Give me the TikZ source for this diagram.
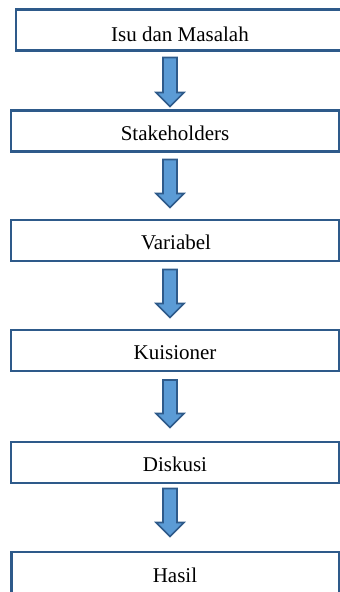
\documentclass[tikz,border=0pt]{standalone}
\usepackage{fontspec}
\setmainfont{Liberation Serif}
\definecolor{boxline}{HTML}{2E5A8A}
\definecolor{arrfill}{HTML}{5B9BD5}
\definecolor{arrline}{HTML}{2E5A8A}
\newcommand\blockarr[3]{%
  \draw[arrstyle] ({#1-7},#2) -- ({#1+7},#2) -- ({#1+7},{#3-14}) -- ({#1+14},{#3-14})
    -- (#1,#3) -- ({#1-14},{#3-14}) -- ({#1-7},{#3-14}) -- cycle;}
\begin{document}
\begin{tikzpicture}[x=1pt,y=-1pt,
  stepbox/.style={draw=boxline, line width=2.4pt, rectangle, minimum height=41pt, inner sep=0pt},
  lbl/.style={anchor=base, inner sep=0pt, font=\fontsize{21}{25}\selectfont},
  arrstyle/.style={draw=arrline, fill=arrfill, line width=1.6pt, line join=miter}]
\useasboundingbox (0,0) rectangle (340,592);
\clip (0,0) rectangle (340,592);
\node[stepbox, minimum width=328pt] (b1) at (180,30) {};
\node[lbl] (t1) at (180,41) {Isu dan Masalah};
\node[stepbox, minimum width=328pt] (b2) at (175,131) {};
\node[lbl] (t2) at (175,140) {Stakeholders};
\node[stepbox, minimum width=328pt] (b3) at (175,240.5) {};
\node[lbl] (t3) at (176,249) {Variabel};
\node[stepbox, minimum width=328pt] (b4) at (175,350.5) {};
\node[lbl] (t4) at (175,359) {Kuisioner};
\node[stepbox, minimum width=328pt] (b5) at (175,462.5) {};
\node[lbl] (t5) at (175,471) {Diskusi};
\node[stepbox, minimum width=328pt] (b6) at (175.5,572.5) {};
\node[lbl] (t6) at (175,582) {Hasil};
\blockarr{170}{57.5}{106.5}
\blockarr{170}{159.5}{207.5}
\blockarr{170}{269.5}{317.5}
\blockarr{170}{380}{427.5}
\blockarr{170}{488.5}{536.5}
\end{tikzpicture}
\end{document}
